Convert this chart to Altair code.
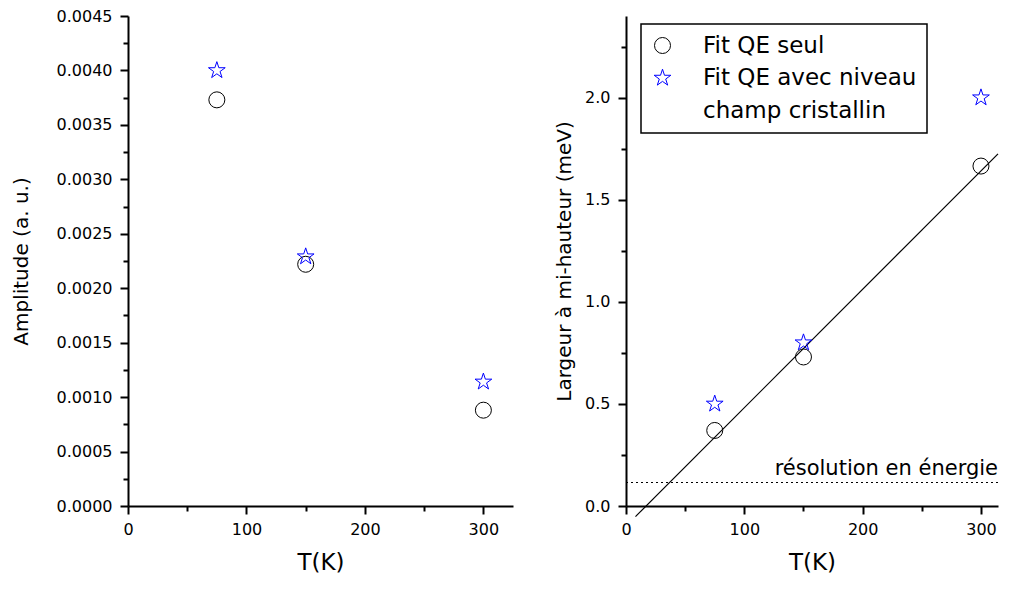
import altair as alt
import pandas as pd

# ---- data ----
temperatures = [75, 150, 300]
amp_qe_seul = [0.00373, 0.00222, 0.00088]
amp_qe_cef = [0.00400, 0.00229, 0.00114]
fwhm_qe_seul = [0.37, 0.73, 1.665]
fwhm_qe_cef = [0.50, 0.80, 2.00]
fit_T = [8, 314.4]
fit_fwhm = [-0.052, 1.725]
resolution_meV = [0.115]
resolution_label = ["résolution en énergie"]

legend_lines = ["Fit QE seul", "Fit QE avec niveau", "champ cristallin"]
series_seul, series_cef = legend_lines[0], legend_lines[1]

x_ticks = [0, 50, 100, 150, 200, 250, 300]
amp_ticks = [round(i * 0.00025, 5) for i in range(19)]
fwhm_ticks = [round(i * 0.25, 2) for i in range(10)]

amp_df = pd.DataFrame({
    "T": temperatures * 2,
    "val": amp_qe_seul + amp_qe_cef,
    "series": [series_seul] * 3 + [series_cef] * 3,
})
fwhm_df = pd.DataFrame({
    "T": temperatures * 2,
    "val": fwhm_qe_seul + fwhm_qe_cef,
    "series": [series_seul] * 3 + [series_cef] * 3,
})
fit_df = pd.DataFrame({"T": fit_T, "val": fit_fwhm})
res_df = pd.DataFrame({"val": resolution_meV, "label": resolution_label})

STAR = ("M0,-1.1L0.247,-0.34L1.046,-0.34L0.4,0.13L0.647,0.89L0,0.42"
        "L-0.647,0.89L-0.4,0.13L-1.046,-0.34L-0.247,-0.34Z")

FONT = "DejaVu Sans"
W_L, W_R, H = 385, 372, 490
X_MAX_L, X_MAX_R = 325, 314.4


def x_axis():
    return alt.Axis(
        values=x_ticks, format="d", title="T(K)", titleFontSize=23,
        labelExpr="datum.value % 100 === 0 ? datum.label : ''",
        tickSize={"condition": {"test": "datum.value % 100 === 0", "value": 8}, "value": 5},
        labelPadding=7, titlePadding=14,
    )


color_scale = alt.Scale(domain=legend_lines, range=["black", "#0000ff", "transparent"])
shape_scale = alt.Scale(domain=legend_lines, range=["circle", STAR, "circle"])

legend = alt.Legend(
    orient="none", legendX=15, legendY=8, title=None,
    strokeColor="black", fillColor="white", padding=10, rowPadding=8.5,
    labelFont=FONT, labelFontSize=23, labelColor="black", labelOffset=29,
    labelLimit=500, symbolSize=256, symbolStrokeWidth=1,
)

# ---- left panel ----
left = alt.Chart(amp_df).mark_point(filled=False, size=256, strokeWidth=1, opacity=1).encode(
    x=alt.X("T:Q", scale=alt.Scale(domain=[0, X_MAX_L], nice=False), axis=x_axis()),
    y=alt.Y("val:Q", scale=alt.Scale(domain=[0, 0.0045], nice=False),
            axis=alt.Axis(values=amp_ticks, format=".4f", title="Amplitude (a. u.)",
                          titleFontSize=20,
                          labelExpr="round(datum.value * 20000) % 10 === 0 ? datum.label : ''",
                          tickSize={"condition": {"test": "round(datum.value * 20000) % 10 === 0", "value": 8}, "value": 5},
                          labelPadding=8, titlePadding=25)),
    color=alt.Color("series:N", scale=color_scale, legend=None),
    shape=alt.Shape("series:N", scale=shape_scale, legend=None),
).properties(width=W_L, height=H)

# ---- right panel ----
x_r = alt.X("T:Q", scale=alt.Scale(domain=[0, X_MAX_R], nice=False), axis=x_axis())
y_r = alt.Y("val:Q", scale=alt.Scale(domain=[0, 2.4], nice=False),
            axis=alt.Axis(values=fwhm_ticks, format=".1f",
                          title="Largeur à mi-hauteur (meV)", titleFontSize=20,
                          labelExpr="round(datum.value * 4) % 2 === 0 ? datum.label : ''",
                          tickSize={"condition": {"test": "round(datum.value * 4) % 2 === 0", "value": 8}, "value": 5},
                          labelPadding=8, titlePadding=10))

right_points = alt.Chart(fwhm_df).mark_point(filled=False, size=256, strokeWidth=1, opacity=1).encode(
    x=x_r, y=y_r,
    color=alt.Color("series:N", scale=color_scale, legend=legend),
    shape=alt.Shape("series:N", scale=shape_scale, legend=legend),
)
fit_line = alt.Chart(fit_df).mark_line(color="black", strokeWidth=1.2, clip=False).encode(
    x="T:Q", y="val:Q"
)
res_rule = alt.Chart(res_df).mark_rule(color="black", strokeWidth=1.2, strokeDash=[2, 3]).encode(
    y="val:Q"
)
res_text = alt.Chart(res_df).mark_text(
    align="right", baseline="alphabetic", dy=-8, dx=0, font=FONT, fontSize=21,
    color="black", clip=True,
).encode(x=alt.value(W_R), y="val:Q", text="label:N")

right = alt.layer(res_rule, fit_line, right_points, res_text).properties(width=W_R, height=H)

chart = alt.hconcat(left, right, spacing=41).resolve_scale(
    color="independent", shape="independent"
).properties(
    padding={"left": 3, "top": 0, "right": 0, "bottom": 0}
).configure_axis(
    domainColor="black", domainWidth=2, tickColor="black", tickWidth=2,
    labelColor="black", labelFont=FONT, labelFontSize=16,
    titleFont=FONT, titleFontWeight="normal", titleColor="black",
    grid=False, labelFlush=False, labelOverlap=False,
).configure_legend(strokeWidth=1.5).configure_view(stroke=None)

chart.save("out.html", embed_options={"renderer": "svg", "actions": False})
